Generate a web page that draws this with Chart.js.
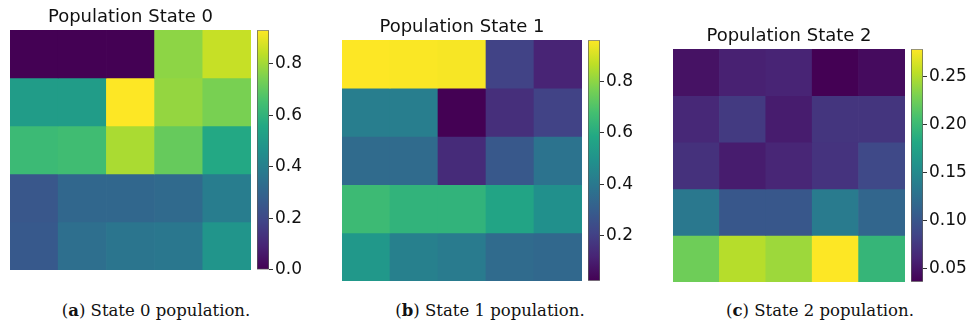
<!DOCTYPE html>
<html>
<head>
<meta charset="utf-8">
<script src="https://cdn.jsdelivr.net/npm/chart.js@4/dist/chart.umd.min.js"></script>
<style>
  body { margin: 0; background: #fff; width: 969px; height: 324px; position: relative; overflow: hidden; }
  canvas { position: absolute; }
  .caption { position: absolute; top: 301px; font-family: "DejaVu Serif", serif; font-size: 16.5px; color: #111; transform: translateX(-50%); white-space: nowrap; }
</style>
</head>
<body>
<div id="root"></div>
<script>
// grid categories (5x5 cells, row 0 is the top row)
const columns = ["0", "1", "2", "3", "4"];
const rows = ["0", "1", "2", "3", "4"];

const state0 = [
  [0.00, 0.00, 0.00, 0.77, 0.85],
  [0.51, 0.51, 0.93, 0.78, 0.74],
  [0.63, 0.64, 0.81, 0.71, 0.56],
  [0.25, 0.31, 0.31, 0.32, 0.39],
  [0.26, 0.34, 0.36, 0.37, 0.48]
];
const state1 = [
  [0.959, 0.955, 0.950, 0.21, 0.12],
  [0.42, 0.42, 0.026, 0.15, 0.21],
  [0.35, 0.35, 0.14, 0.28, 0.38],
  [0.66, 0.63, 0.63, 0.57, 0.49],
  [0.52, 0.43, 0.41, 0.35, 0.34]
];
const state2 = [
  [0.048, 0.058, 0.060, 0.036, 0.043],
  [0.063, 0.077, 0.055, 0.073, 0.073],
  [0.070, 0.055, 0.062, 0.072, 0.089],
  [0.133, 0.102, 0.102, 0.136, 0.116],
  [0.225, 0.252, 0.243, 0.279, 0.196]
];

const ticks0 = [0.0, 0.2, 0.4, 0.6, 0.8];
const ticks1 = [0.2, 0.4, 0.6, 0.8];
const ticks2 = [0.05, 0.10, 0.15, 0.20, 0.25];

const titles = ["Population State 0", "Population State 1", "Population State 2"];
const captionLetters = ["a", "b", "c"];
const captionTexts = ["State 0 population.", "State 1 population.", "State 2 population."];

// viridis stops
const viridis = ["#440154", "#482475", "#414487", "#355f8d", "#2a788e", "#21918c",
                 "#22a884", "#44bf70", "#7ad151", "#bddf26", "#fde725"];

const hexToRgb = h => [1, 3, 5].map(i => parseInt(h.slice(i, i + 2), 16));

const colorAt = t => {
  t = Math.max(0, Math.min(1, t));
  const pos = t * (viridis.length - 1);
  const i = Math.min(Math.floor(pos), viridis.length - 2);
  const f = pos - i;
  const a = hexToRgb(viridis[i]), b = hexToRgb(viridis[i + 1]);
  const c = a.map((v, k) => Math.round(v + (b[k] - v) * f));
  return `rgb(${c[0]},${c[1]},${c[2]})`;
};

// panel placement on the page
const panels = [
  { values: state0, ticks: ticks0, dec: 1, left: 10, top: 30, w: 241, h: 240, cbLeft: 257, cbW: 12, capX: 156 },
  { values: state1, ticks: ticks1, dec: 1, left: 342, top: 40, w: 240, h: 241, cbLeft: 588, cbW: 12, capX: 490 },
  { values: state2, ticks: ticks2, dec: 2, left: 673, top: 49, w: 232, h: 233, cbLeft: 911, cbW: 12, capX: 820 }
];

const root = document.getElementById("root");
const TITLE_H = 30;
const CB_PAD = 12;

const makeCanvas = (x, y, w, h) => {
  const c = document.createElement("canvas");
  c.width = w; c.height = h;
  c.style.left = x + "px"; c.style.top = y + "px";
  c.style.width = w + "px"; c.style.height = h + "px";
  root.appendChild(c);
  return c;
};

panels.forEach((p, idx) => {
  const flat = p.values.flat();
  const vmin = Math.min(...flat);
  const vmax = Math.max(...flat);

  // heatmap: stacked unit bars, one dataset per row
  const hm = makeCanvas(p.left, p.top - TITLE_H, p.w, p.h + TITLE_H);
  new Chart(hm, {
    type: "bar",
    data: {
      labels: columns,
      datasets: rows.map((r, i) => ({
        label: "row " + r,
        data: columns.map(() => 1),
        backgroundColor: p.values[i].map(v => colorAt((v - vmin) / (vmax - vmin))),
        borderWidth: 0,
        barPercentage: 1,
        categoryPercentage: 1
      }))
    },
    options: {
      responsive: false,
      animation: false,
      devicePixelRatio: 1,
      layout: { padding: 0 },
      plugins: {
        legend: { display: false },
        tooltip: { enabled: false },
        title: {
          display: true,
          text: titles[idx],
          color: "#111",
          font: { family: "DejaVu Sans", size: 18, weight: "normal" },
          padding: { top: 7, bottom: 1.4 }
        }
      },
      scales: {
        x: { display: false, stacked: true },
        y: { display: false, stacked: true, reverse: true, min: 0, max: rows.length }
      }
    }
  });

  // colorbar
  const cb = makeCanvas(p.cbLeft, p.top - CB_PAD, p.cbW + 50, p.h + CB_PAD * 2);
  new Chart(cb, {
    type: "bar",
    data: {
      labels: [""],
      datasets: [{
        data: [[vmin, vmax]],
        backgroundColor: ctx => {
          const area = ctx.chart.chartArea;
          if (!area) return viridis[5];
          const g = ctx.chart.ctx.createLinearGradient(0, area.bottom, 0, area.top);
          viridis.forEach((c, i) => g.addColorStop(i / (viridis.length - 1), c));
          return g;
        },
        borderColor: "#5a5a5a",
        borderWidth: 1,
        borderSkipped: false,
        barPercentage: 1,
        categoryPercentage: 1
      }]
    },
    options: {
      responsive: false,
      animation: false,
      devicePixelRatio: 1,
      layout: { padding: { top: CB_PAD, bottom: CB_PAD, left: 0, right: 0 } },
      plugins: { legend: { display: false }, tooltip: { enabled: false } },
      scales: {
        x: { display: false },
        y: {
          position: "right",
          min: vmin,
          max: vmax,
          afterBuildTicks: s => { s.ticks = p.ticks.map(v => ({ value: v })); },
          afterFit: s => { s.width = 50; },
          border: { display: false },
          grid: { drawOnChartArea: false, drawTicks: true, tickLength: 4, tickColor: "#333", tickWidth: 1 },
          ticks: {
            padding: 2,
            color: "#111",
            font: { family: "DejaVu Sans", size: 17 },
            callback: v => Number(v).toFixed(p.dec)
          }
        }
      }
    }
  });

  const cap = document.createElement("div");
  cap.className = "caption";
  cap.style.left = p.capX + "px";
  cap.innerHTML = "(<b>" + captionLetters[idx] + "</b>) " + captionTexts[idx];
  root.appendChild(cap);
});
</script>
</body>
</html>
